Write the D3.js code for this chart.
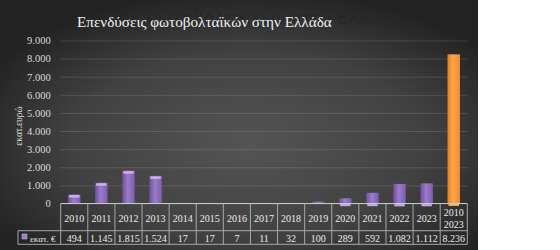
<!DOCTYPE html>
<html>
<head>
<meta charset="utf-8">
<script src="https://cdn.jsdelivr.net/npm/d3@7"></script>
<style>
  html, body { margin: 0; padding: 0; background: #fff; }
  svg { display: block; }
</style>
</head>
<body>
<div id="chart"></div>
<script>
// data
var title = "Επενδύσεις φωτοβολταϊκών στην Ελλάδα";
var yTitle = "εκατ.ευρώ";
var seriesName = "εκατ. €";
var categories = ["2010", "2011", "2012", "2013", "2014", "2015", "2016", "2017",
                  "2018", "2019", "2020", "2021", "2022", "2023", "2010\n2023"];
var values = [494, 1145, 1815, 1524, 17, 17, 7, 11, 32, 100, 289, 592, 1082, 1112, 8236];
var yTicks = [0, 1000, 2000, 3000, 4000, 5000, 6000, 7000, 8000, 9000];

var W = 560, H = 250, chartW = 478;
var plotL = 60.7, plotR = 467.3, plotT = 40.5, plotB = 203.5;
var row1 = 230.7, row2 = 244.3;

var loc = d3.formatLocale({ decimal: ",", thousands: ".", grouping: [3], currency: ["", "€"] });
var fmt = loc.format(",d");

var svg = d3.select("#chart").append("svg").attr("width", W).attr("height", H);
var defs = svg.append("defs");

var bg = defs.append("radialGradient").attr("id", "bg")
    .attr("cx", "52%").attr("cy", "58%").attr("r", "62%");
bg.append("stop").attr("offset", "0%").attr("stop-color", "#545454");
bg.append("stop").attr("offset", "60%").attr("stop-color", "#414141");
bg.append("stop").attr("offset", "100%").attr("stop-color", "#232323");

function barGrad(id, dark, mid, light) {
    var g = defs.append("linearGradient").attr("id", id).attr("x1", "0").attr("x2", "1");
    g.append("stop").attr("offset", "0%").attr("stop-color", dark);
    g.append("stop").attr("offset", "45%").attr("stop-color", light);
    g.append("stop").attr("offset", "100%").attr("stop-color", mid);
}
barGrad("purple", "#6f4f9c", "#7d5cae", "#9a7cc9");
barGrad("orange", "#e07f22", "#ec8c2e", "#ffa54a");

svg.append("rect").attr("width", chartW).attr("height", H).attr("fill", "url(#bg)");

// faint ghost of the title behind
svg.append("text").attr("x", 401).attr("y", 24)
    .attr("text-anchor", "end")
    .attr("font-family", "DejaVu Sans, sans-serif").attr("font-size", 17)
    .attr("fill", "#262626").attr("opacity", 0.6).text(title);

svg.append("text").attr("x", 77).attr("y", 26.5)
    .attr("font-family", "Liberation Serif, serif").attr("font-size", 15.2)
    .attr("fill", "#f2f2f2").text(title);

var x = d3.scaleBand().domain(categories).range([plotL, plotR]).paddingInner(0.54).paddingOuter(0.27);
var col = d3.scaleBand().domain(categories).range([plotL, plotR]).padding(0);
var y = d3.scaleLinear().domain([0, 9000]).range([plotB, plotT]);

// grid + y axis
var yAxis = svg.append("g").attr("transform", "translate(" + plotL + ",0)")
    .call(d3.axisLeft(y).tickValues(yTicks).tickFormat(fmt).tickSize(-(plotR - plotL)).tickPadding(10));
yAxis.select(".domain").remove();
yAxis.selectAll(".tick line").attr("stroke", "#ffffff").attr("stroke-opacity", 0.13);
yAxis.selectAll(".tick text").attr("fill", "#dcdcdc")
    .attr("font-family", "Liberation Serif, serif").attr("font-size", 10.5);

svg.append("text")
    .attr("transform", "translate(22,126) rotate(-90)")
    .attr("text-anchor", "middle")
    .attr("font-family", "Liberation Serif, serif").attr("font-size", 9.5)
    .attr("fill", "#e0e0e0").text(yTitle);

// bars
var last = categories[categories.length - 1];
var bars = svg.append("g").selectAll("g").data(categories).enter().append("g");
bars.append("rect")
    .attr("x", function (d) { return x(d); })
    .attr("y", function (d, i) { return y(values[i]); })
    .attr("width", x.bandwidth())
    .attr("height", function (d, i) { return y(0) - y(values[i]); })
    .attr("fill", function (d) { return d === last ? "url(#orange)" : "url(#purple)"; });
bars.filter(function (d, i) { return y(0) - y(values[i]) > 3; }).append("rect")
    .attr("x", function (d) { return x(d) + 1; })
    .attr("y", function (d, i) { return y(values[i]) + 0.5; })
    .attr("width", x.bandwidth() - 2)
    .attr("height", 2.5)
    .attr("fill", function (d) { return d === last ? "#ffd08a" : "#d2bdf2"; })
    .attr("opacity", 0.85);

// data table
var table = svg.append("g").attr("stroke", "#a8a8a8").attr("stroke-width", 1).attr("fill", "none");
table.append("line").attr("x1", plotL).attr("x2", plotR).attr("y1", plotB).attr("y2", plotB).attr("stroke", "#c8c8c8");
table.append("line").attr("x1", 18).attr("x2", plotR).attr("y1", row1).attr("y2", row1);
table.append("line").attr("x1", 18).attr("x2", plotR).attr("y1", row2).attr("y2", row2);
table.append("line").attr("x1", 18).attr("x2", 18).attr("y1", row1).attr("y2", row2);
table.selectAll("line.v").data(categories.concat(["end"])).enter().append("line")
    .attr("x1", function (d, i) { return plotL + i * col.step(); })
    .attr("x2", function (d, i) { return plotL + i * col.step(); })
    .attr("y1", plotB).attr("y2", row2);

var labels = svg.append("g").attr("font-family", "Liberation Serif, serif").attr("font-size", 10)
    .attr("fill", "#ececec").attr("text-anchor", "middle");
labels.selectAll("text.cat").data(categories).enter().append("text")
    .each(function (d) {
        var lines = d.split("\n");
        var t = d3.select(this);
        lines.forEach(function (s, k) {
            t.append("tspan")
                .attr("x", col(d) + col.bandwidth() / 2)
                .attr("y", lines.length > 1 ? 215.5 + k * 12.5 : 221.5)
                .text(s);
        });
    });
labels.selectAll("text.val").data(values).enter().append("text")
    .attr("x", function (d, i) { return col(categories[i]) + col.bandwidth() / 2; })
    .attr("y", 241.5)
    .text(function (d) { return fmt(d); });

// legend key in table
svg.append("rect").attr("x", 22).attr("y", 234).attr("width", 5).attr("height", 5)
    .attr("fill", "#9a7cc9").attr("stroke", "#d2bdf2").attr("stroke-width", 0.5);
svg.append("text").attr("x", 30).attr("y", 241.5)
    .attr("font-family", "Liberation Serif, serif").attr("font-size", 9)
    .attr("fill", "#ececec").text(seriesName);
</script>
</body>
</html>
